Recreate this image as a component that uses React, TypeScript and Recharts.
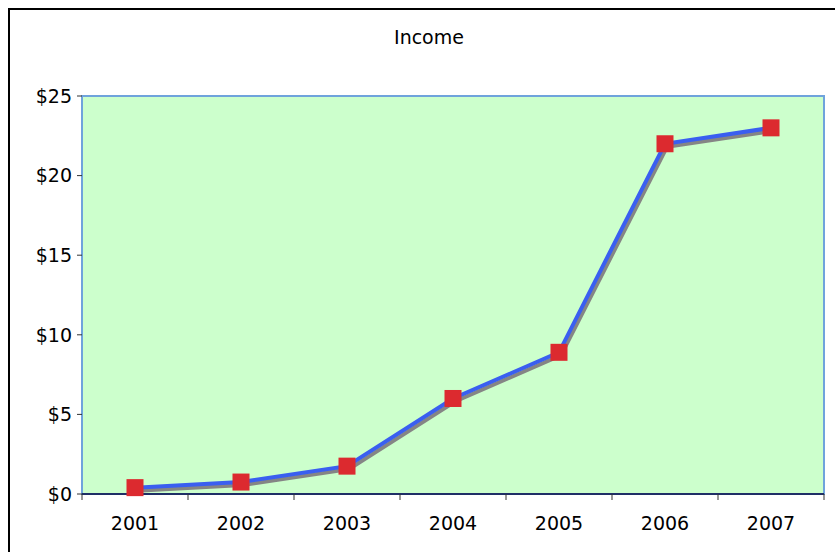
import { CartesianGrid, Line, LineChart, ReferenceArea, XAxis, YAxis } from "recharts"

const years = [2001, 2002, 2003, 2004, 2005, 2006, 2007]
const income = [0.4, 0.75, 1.75, 6.0, 8.9, 22.0, 23.0]
const yTicks = [0, 5, 10, 15, 20, 25]
// category boundaries get tick marks, category centres get the labels
const xTicks = [2000.5, ...years.flatMap((y) => [y, y + 0.5])]

const data = years.map((year, i) => ({ year, income: income[i] }))

const font = "Verdana, 'DejaVu Sans', sans-serif"

function SquareDot(props: any) {
  const { cx, cy } = props
  if (cx == null || cy == null) return null
  return <rect x={cx - 8.5} y={cy - 8.5} width={17} height={17} fill="#dc2a2f" />
}

function YearTick(props: any) {
  const { x, y, payload } = props
  const v = payload.value as number
  if (Number.isInteger(v)) {
    return (
      <text x={x} y={y + 36} textAnchor="middle" fill="#000" fontSize={19} fontFamily={font}>
        {v}
      </text>
    )
  }
  return <line x1={x} x2={x} y1={y} y2={y + 6} stroke="#333" />
}

export default function App() {
  return (
    <div style={{ position: "absolute", left: 0, top: 0, width: 835, height: 552, overflow: "hidden", background: "#fff" }}>
      <style>{`.income-line { filter: drop-shadow(2px 3px 0 #858585); }`}</style>
      <div
        style={{
          position: "absolute",
          left: 8,
          top: 8,
          width: 900,
          height: 600,
          borderTop: "2px solid #000",
          borderLeft: "2px solid #000",
        }}
      />
      <div
        style={{
          position: "absolute",
          left: 0,
          width: 858,
          top: 26,
          textAlign: "center",
          fontFamily: font,
          fontSize: 19,
          color: "#000",
        }}
      >
        Income
      </div>
      <div style={{ position: "absolute", left: 0, top: 0 }}>
        <LineChart width={835} height={552} data={data} margin={{ top: 96, right: 11, bottom: 0, left: 0 }}>
          <CartesianGrid horizontal={false} vertical={false} />
          <XAxis
            type="number"
            dataKey="year"
            domain={[2000.5, 2007.5]}
            ticks={xTicks}
            interval={0}
            height={58}
            axisLine={{ stroke: "#1f2f66", strokeWidth: 2 }}
            tickLine={false}
            tickSize={0}
            tickMargin={0}
            tick={<YearTick />}
            allowDataOverflow
          />
          <YAxis
            domain={[0, 25]}
            ticks={yTicks}
            width={82}
            axisLine={false}
            tickLine={{ stroke: "#333" }}
            tickSize={5}
            tickMargin={5}
            tickFormatter={(v: number) => `$${v}`}
            tick={{ fill: "#000", fontSize: 19, fontFamily: font }}
          />
          <ReferenceArea
            x1={2000.5}
            x2={2007.5}
            y1={0}
            y2={25}
            fill="#ccffcc"
            fillOpacity={1}
            stroke="#6fa3dc"
            strokeWidth={2}
          />
          <Line
            className="income-line"
            type="linear"
            dataKey="income"
            stroke="#3a5ff0"
            strokeWidth={4}
            dot={<SquareDot />}
            activeDot={false}
            isAnimationActive={false}
          />
        </LineChart>
      </div>
    </div>
  )
}
